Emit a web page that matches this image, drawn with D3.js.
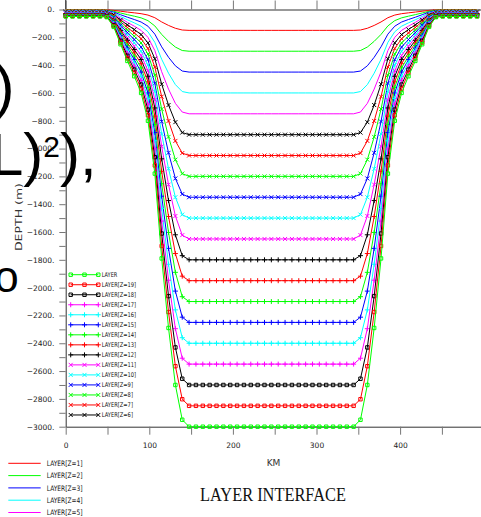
<!DOCTYPE html>
<html>
<head>
<meta charset="utf-8">
<script src="https://cdn.jsdelivr.net/npm/d3@7"></script>
<style>
  body { margin: 0; background: #fff; }
  svg { display: block; }
</style>
</head>
<body>
<script>
(function(){

    //grid positions along the section (km)
    var km = [0, 8.2, 16.4, 24.6, 32.8, 41, 49.2, 57.4, 65.6, 73.8, 82, 90.2, 98.4, 106.6, 114.8,
              123, 131.2, 139.4, 147.6, 155.8, 164, 172.2, 180.4, 188.6, 196.8, 205, 213.2, 221.4,
              229.6, 237.8, 246, 254.2, 262.4, 270.6, 278.8, 287, 295.2, 303.4, 311.6, 319.8, 328,
              336.2, 344.4, 352.6, 360.8, 369, 377.2, 385.4, 393.6, 401.8, 410, 418.2, 426.4, 434.6,
              442.8, 451, 459.2, 467.4, 475.6, 483.8, 492];

    var layerNames = ["LAYER[Z=1]", "LAYER[Z=2]", "LAYER[Z=3]", "LAYER[Z=4]", "LAYER[Z=5]",
                      "LAYER[Z=6]", "LAYER[Z=7]", "LAYER[Z=8]", "LAYER[Z=9]", "LAYER[Z=10]",
                      "LAYER[Z=11]", "LAYER[Z=12]", "LAYER[Z=13]", "LAYER[Z=14]", "LAYER[Z=15]",
                      "LAYER[Z=16]", "LAYER[Z=17]", "LAYER[Z=18]", "LAYER[Z=19]", "LAYER"];

    var layerColors = ["#ff0000", "#00ff00", "#0000ff", "#00ffff", "#ff00ff",
                       "#000000", "#ff0000", "#00ff00", "#0000ff", "#00ffff",
                       "#ff00ff", "#000000", "#ff0000", "#00ff00", "#0000ff",
                       "#00ffff", "#ff00ff", "#000000", "#ff0000", "#00ff00"];

    var layerMarkers = ["none", "none", "none", "none", "none",
                        "x", "x", "x", "x", "x", "x",
                        "plus", "plus", "plus", "plus", "plus", "plus",
                        "square", "square", "square"];

    //interface depth on the shelf (m)
    var shelfDepth = [2.5, 5, 7.5, 10, 12.5, 15, 17.5, 20, 22.5, 25,
                      27.5, 30, 32.5, 35, 37.5, 40, 42.5, 45, 47.5, 50];

    //interface depth on the basin floor (m)
    var floorDepth = [150, 300, 450, 600, 750, 900, 1050, 1200, 1350, 1500,
                      1650, 1800, 1950, 2100, 2250, 2400, 2550, 2700, 2850, 3000];

    //interface depth over the slope, km 41 to 139.4 (m)
    var slopeDepth = [
        [2.5, 2.8, 6.3, 12.5, 18.5, 24, 30, 40, 59, 89.5, 114.5, 135, 147.5],
        [5, 5.5, 12.5, 25, 37, 48, 60, 80, 118, 179, 229, 270, 295],
        [7.5, 8.3, 18.8, 37.5, 55.5, 72, 90, 120, 177, 268.5, 343.5, 405, 442.5],
        [10, 11, 25, 50, 74, 96, 120, 160, 236, 358, 458, 540, 590],
        [12.5, 13.8, 31.3, 62.5, 92.5, 120, 150, 200, 295, 447.5, 572.5, 675, 737.5],
        [15, 16.5, 37.5, 75, 111, 144, 180, 240, 354, 537, 687, 810, 885],
        [17.5, 19.3, 43.8, 87.5, 129.5, 168, 210, 280, 413, 626.5, 801.5, 945, 1032.5],
        [20, 22, 50, 100, 148, 192, 240, 320, 472, 716, 916, 1080, 1180],
        [22.5, 24.8, 56.3, 112.5, 166.5, 216, 270, 360, 531, 805.5, 1030.5, 1215, 1327.5],
        [25, 27.5, 62.5, 125, 185, 240, 300, 400, 590, 895, 1145, 1350, 1475],
        [27.5, 30.3, 68.8, 137.5, 203.5, 264, 330, 440, 649, 984.5, 1259.5, 1485, 1622.5],
        [30, 33, 75, 150, 222, 288, 360, 480, 708, 1074, 1374, 1620, 1770],
        [32.5, 35.8, 81.3, 162.5, 240.5, 312, 390, 520, 767, 1163.5, 1488.5, 1755, 1917.5],
        [35, 38.5, 87.5, 175, 259, 336, 420, 560, 826, 1253, 1603, 1890, 2065],
        [37.5, 41.3, 93.8, 187.5, 277.5, 360, 450, 600, 885, 1342.5, 1717.5, 2025, 2212.5],
        [40, 44, 100, 200, 296, 384, 480, 640, 944, 1432, 1832, 2160, 2360],
        [42.5, 46.8, 106.3, 212.5, 314.5, 408, 510, 680, 1003, 1521.5, 1946.5, 2295, 2507.5],
        [45, 49.5, 112.5, 225, 333, 432, 540, 720, 1062, 1611, 2061, 2430, 2655],
        [47.5, 52.3, 118.8, 237.5, 351.5, 456, 570, 760, 1121, 1700.5, 2175.5, 2565, 2802.5],
        [50, 55, 125, 250, 370, 480, 600, 800, 1180, 1790, 2290, 2700, 2950]
    ];

    var xTickValues = [0, 50, 100, 150, 200, 250, 300, 350, 400, 450];
    var xTickLabels = [0, 100, 200, 300, 400];
    var yTickLabels = [0, -200, -400, -600, -800, -1000, -1200, -1400, -1600,
                       -1800, -2000, -2200, -2400, -2600, -2800, -3000];

    var width = 481,
        height = 517;

    var svg = d3.select("body")
        .append("svg")
        .attr("width", width)
        .attr("height", height);

    var x = d3.scaleLinear()
        .domain([0, 500])
        .range([65.7, 483.7]);

    var y = d3.scaleLinear()
        .domain([-3000, 0])
        .range([426.7, 9.5]);

    //one full section for a layer: shelf, slope, floor, mirrored back up
    function buildSeries(k){
        var half = [];
        for (var i = 0; i < 5; i++) half.push(shelfDepth[k]);
        slopeDepth[k].forEach(function(d){ half.push(d); });
        for (i = 18; i <= 30; i++) half.push(floorDepth[k]);
        var depths = half.concat(half.slice(0, 30).reverse());
        return km.map(function(v, i){
            return {km: v, depth: -depths[i]};
        });
    }

    var markerPaths = {
        x: "M-2,-2L2,2M-2,2L2,-2",
        plus: "M-2.5,0H2.5M0,-2.5V2.5",
        square: "M-1.7,-1.7H1.7V1.7H-1.7Z"
    };

    //axes
    var fontSans = "'DejaVu Sans', sans-serif";

    var yAxis = d3.axisLeft(y)
        .tickValues(d3.range(0, -3001, -100))
        .tickSize(6.4)
        .tickSizeOuter(0)
        .tickPadding(4.8)
        .tickFormat(function(d){
            if (yTickLabels.indexOf(d) < 0) return "";
            return (d < 0 ? "\u2212" + (-d) : d) + ".";
        });

    var gy = svg.append("g")
        .attr("transform", "translate(" + x(0) + ",0)")
        .call(yAxis);

    var xBottom = d3.axisBottom(x)
        .tickValues(xTickValues)
        .tickSize(8)
        .tickSizeOuter(0)
        .tickPadding(8.3)
        .tickFormat(function(d){
            return xTickLabels.indexOf(d) < 0 ? "" : d;
        });

    var gb = svg.append("g")
        .attr("transform", "translate(0," + y(-3000) + ")")
        .call(xBottom);

    var xTop = d3.axisTop(x)
        .tickValues(xTickValues)
        .tickSize(9)
        .tickSizeOuter(0)
        .tickFormat("");

    var gt = svg.append("g")
        .attr("transform", "translate(0," + y(0) + ")")
        .call(xTop);

    [gy, gb, gt].forEach(function(g){
        g.select(".domain").attr("stroke", "#333").attr("stroke-width", 1);
        g.selectAll(".tick line").attr("stroke", "#777").attr("stroke-width", 1);
        g.selectAll(".tick text")
            .attr("fill", "#222")
            .style("font-family", fontSans)
            .style("font-size", "7.5px");
    });

    //left axis line runs up to the top edge
    svg.append("line")
        .attr("x1", x(0)).attr("x2", x(0))
        .attr("y1", 0).attr("y2", y(0))
        .attr("stroke", "#333");

    //layer interfaces
    var line = d3.line()
        .x(function(d){ return x(d.km); })
        .y(function(d){ return y(d.depth); });

    layerNames.forEach(function(name, k){
        var series = buildSeries(k);
        var g = svg.append("g").attr("class", "layer");
        g.append("path")
            .datum(series)
            .attr("d", line)
            .attr("fill", "none")
            .attr("stroke", layerColors[k])
            .attr("stroke-width", 1);
        if (layerMarkers[k] != "none"){
            g.selectAll(".marker")
                .data(series)
                .enter()
                .append("path")
                .attr("class", "marker")
                .attr("d", markerPaths[layerMarkers[k]])
                .attr("transform", function(d){
                    return "translate(" + x(d.km) + "," + y(d.depth) + ")";
                })
                .attr("fill", "none")
                .attr("stroke", layerColors[k])
                .attr("stroke-width", 1);
        }
    });

    //legend inside the plot, Z=6 .. LAYER
    var innerKeys = d3.range(19, 4, -1);
    var inner = svg.selectAll(".innerKey")
        .data(innerKeys)
        .enter()
        .append("g")
        .attr("class", "innerKey")
        .attr("transform", function(d, j){
            return "translate(0," + (274.7 + j * 10.02) + ")";
        });

    inner.append("line")
        .attr("x1", 70.7).attr("x2", 98.3)
        .attr("stroke", function(k){ return layerColors[k]; });

    inner.each(function(k){
        var g = d3.select(this);
        [70.7, 84.5, 98.3].forEach(function(mx){
            g.append("path")
                .attr("d", markerPaths[layerMarkers[k]])
                .attr("transform", "translate(" + mx + ",0)")
                .attr("fill", "none")
                .attr("stroke", layerColors[k]);
        });
    });

    inner.append("text")
        .attr("x", 101.7)
        .attr("y", 2.4)
        .attr("textLength", function(k){ return layerNames[k].length * 3.12; })
        .attr("lengthAdjust", "spacingAndGlyphs")
        .style("font-family", fontSans)
        .style("font-size", "6.5px")
        .attr("fill", "#111")
        .text(function(k){ return layerNames[k]; });

    //legend below the plot, Z=1 .. Z=5
    var outer = svg.selectAll(".outerKey")
        .data([0, 1, 2, 3, 4])
        .enter()
        .append("g")
        .attr("class", "outerKey")
        .attr("transform", function(d, j){
            return "translate(0," + (463.3 + j * 12.3) + ")";
        });

    outer.append("line")
        .attr("x1", 8.3).attr("x2", 40.7)
        .attr("stroke", function(k){ return layerColors[k]; });

    outer.append("text")
        .attr("x", 46.7)
        .attr("y", 2.8)
        .attr("textLength", function(k){ return layerNames[k].length * 3.6; })
        .attr("lengthAdjust", "spacingAndGlyphs")
        .style("font-family", fontSans)
        .style("font-size", "7.5px")
        .attr("fill", "#111")
        .text(function(k){ return layerNames[k]; });

    //axis titles
    svg.append("text")
        .attr("transform", "translate(21.5,217) rotate(-90)")
        .attr("text-anchor", "middle")
        .attr("textLength", 68)
        .attr("lengthAdjust", "spacingAndGlyphs")
        .style("font-family", fontSans)
        .style("font-size", "8.5px")
        .attr("fill", "#333")
        .text("DEPTH  (m)");

    svg.append("text")
        .attr("x", 273.5)
        .attr("y", 466)
        .attr("text-anchor", "middle")
        .style("font-family", fontSans)
        .style("font-size", "9px")
        .attr("fill", "#333")
        .text("KM");

    svg.append("text")
        .attr("x", 200)
        .attr("y", 501)
        .attr("textLength", 146)
        .attr("lengthAdjust", "spacingAndGlyphs")
        .style("font-family", "'Liberation Serif', serif")
        .style("font-size", "18px")
        .attr("fill", "#111")
        .text("LAYER INTERFACE");

    //large text fragments lying over the left side of the figure
    var big = svg.append("g")
        .style("font-family", "'Liberation Sans', Arial, sans-serif")
        .attr("fill", "#000");

    big.append("text")
        .attr("x", -5.4)
        .attr("y", 106.7)
        .style("font-size", "60px")
        .text(")");

    var formula = big.append("text")
        .attr("x", -10)
        .attr("y", 175)
        .style("font-size", "60px");
    formula.append("tspan").text("L)");
    formula.append("tspan").attr("dy", -18.5).style("font-size", "30px").text("2");
    formula.append("tspan").attr("dy", 18.5).text("),");

    big.append("text")
        .attr("x", -5.7)
        .attr("y", 291.7)
        .style("font-size", "44px")
        .text("o");

})();
</script>
</body>
</html>
